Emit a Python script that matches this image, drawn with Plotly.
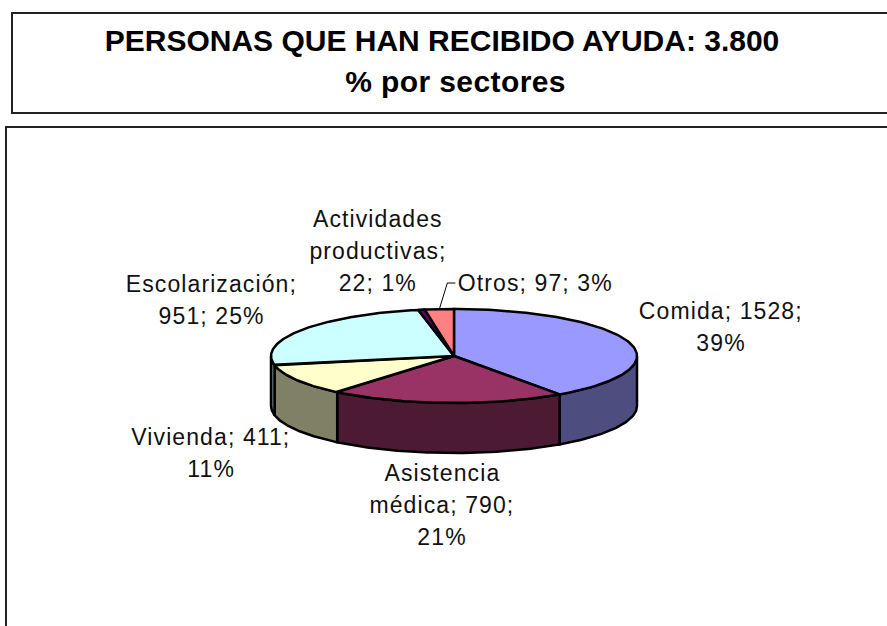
import numpy as np
import plotly.graph_objects as go

# --- data -----------------------------------------------------------------
categories = ["Comida", "Asistencia médica", "Vivienda", "Escolarización", "Actividades productivas", "Otros"]
values = [1528, 790, 411, 951, 22, 97]
percent_labels = ["39%", "21%", "11%", "25%", "1%", "3%"]
title_lines = ["PERSONAS QUE HAN RECIBIDO AYUDA: 3.800", "% por sectores"]

# --- style ----------------------------------------------------------------
top_colors = ["#9999FF", "#993366", "#FFFFCC", "#CCFFFF", "#660066", "#FF8080"]
side_colors = ["#4D4D80", "#4D1A33", "#808066", "#668080", "#330033", "#804040"]
CX, CY, RX, RY, DEPTH = 454, 356, 183, 47, 50
W, H = 887, 626
FONT = "Liberation Sans, Arial, sans-serif"
LABEL_SIZE = 23
LINE_H = 32

# text lines and centre positions for each label (category index -> layout)
label_layout = {
    0: (["Comida; {v};", "{p}"], 721, 311),
    1: (["Asistencia", "médica; {v};", "{p}"], 442, 473),
    2: (["Vivienda; {v};", "{p}"], 211, 437),
    3: (["Escolarización;", "{v}; {p}"], 211, 284),
    4: (["Actividades", "productivas;", "{v}; {p}"], 378, 219),
    5: (["Otros; {v}; {p}"], 535, 283),
}

def ellipse(theta_deg, drop=0.0):
    t = np.radians(theta_deg)
    return CX + RX * np.sin(t), CY - RY * np.cos(t) + drop

total = sum(values)
edges = np.concatenate([[0.0], np.cumsum(values) / total * 360.0])

fig = go.Figure()

# visible rim (front half of the disc), drawn first
for i, name in enumerate(categories):
    a0, a1 = max(edges[i], 90.0), min(edges[i + 1], 270.0)
    if a1 <= a0:
        continue
    th = np.linspace(a0, a1, 80)
    xt, yt = ellipse(th)
    xb, yb = ellipse(th[::-1], DEPTH)
    fig.add_trace(go.Scatter(
        x=np.r_[xt, xb, xt[0]], y=np.r_[yt, yb, yt[0]],
        mode="lines", fill="toself", fillcolor=side_colors[i],
        line=dict(color="black", width=2.5), hoverinfo="skip",
        showlegend=False, name=name + " (lado)"))

# top faces
for i, name in enumerate(categories):
    th = np.linspace(edges[i], edges[i + 1], 120)
    xe, ye = ellipse(th)
    fig.add_trace(go.Scatter(
        x=np.r_[CX, xe, CX], y=np.r_[CY, ye, CY],
        mode="lines", fill="toself", fillcolor=top_colors[i],
        line=dict(color="black", width=2.5), hoverinfo="skip",
        showlegend=False, name=name))

# leader line for the last slice
mid = (edges[5] + edges[6]) / 2
lx, ly = ellipse(mid)
fig.add_trace(go.Scatter(
    x=[lx, lx + 8, lx + 16], y=[ly, 283, 283], mode="lines",
    line=dict(color="black", width=1), hoverinfo="skip", showlegend=False))

annotations = []
for i, (lines, x, y0) in label_layout.items():
    for k, line in enumerate(lines):
        annotations.append(dict(
            x=x, y=y0 + k * LINE_H, xref="x", yref="y",
            text=line.format(v=values[i], p=percent_labels[i]),
            showarrow=False, xanchor="center", yanchor="middle",
            font=dict(family=FONT, size=LABEL_SIZE, color="#111111")))

annotations.append(dict(
    x=455, y=81, xref="x", yref="y", text="<b>%s</b>" % title_lines[1], showarrow=False,
    xanchor="center", yanchor="middle", font=dict(family=FONT, size=30, color="black")))

frame = dict(color="#222222", width=2)
shapes = [
    dict(type="rect", xref="x", yref="y", x0=12, y0=13, x1=W + 20, y1=113, line=frame, layer="below"),
    dict(type="rect", xref="x", yref="y", x0=6, y0=127, x1=W + 20, y1=H + 20, line=frame, layer="below"),
]

fig.update_layout(
    width=W, height=H, autosize=False,
    margin=dict(l=0, r=0, t=0, b=0),
    paper_bgcolor="white", plot_bgcolor="white",
    title=dict(text="<b>%s</b>" % title_lines[0], x=442 / W, xanchor="center", xref="paper",
               y=1 - 40 / H, yanchor="middle", yref="container",
               font=dict(family=FONT, size=30, color="black")),
    xaxis=dict(range=[0, W], visible=False, fixedrange=True),
    yaxis=dict(range=[H, 0], visible=False, fixedrange=True),
    annotations=annotations, shapes=shapes, showlegend=False,
)
css = (".annotation-text{letter-spacing:1.1px}"
       ".annotation-text:has(tspan){letter-spacing:0.4px}")
fig.write_html("out.html", config=dict(displayModeBar=False),
               post_script=("document.body.style.margin='0';"
                            "document.documentElement.style.overflow='hidden';"
                            "var s=document.createElement('style');s.textContent=%r;"
                            "document.head.appendChild(s);" % css))
